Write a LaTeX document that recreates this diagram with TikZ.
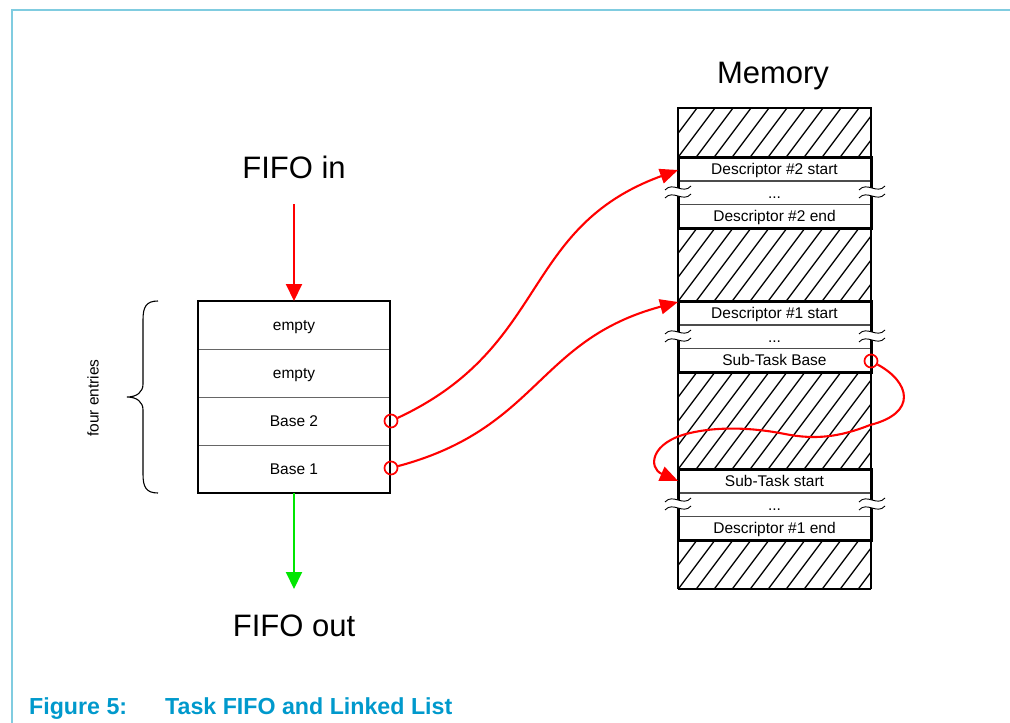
\documentclass[tikz,border=0pt]{standalone}
\usepackage{fontspec}
\setmainfont{Liberation Sans}
\usetikzlibrary{arrows.meta}
\definecolor{framecol}{RGB}{128,204,224}
\definecolor{capcol}{RGB}{0,153,204}
\definecolor{linkred}{RGB}{255,0,0}
\definecolor{outgreen}{RGB}{0,230,0}
\begin{document}
\begin{tikzpicture}[x=1pt,y=-1pt,
  bigtxt/.style={font=\fontsize{31}{36}\selectfont, anchor=base, inner sep=0},
  captxt/.style={font=\fontsize{23.2}{27}\selectfont\bfseries, text=capcol, anchor=base west, inner sep=0},
  fiforow/.style={draw=black!60, line width=0.9pt, minimum width=192pt, minimum height=48pt, inner sep=0, outer sep=0,
     anchor=north west, text height=11pt, text depth=0pt, font=\fontsize{15.5}{18}\selectfont},
  memrow/.style={draw=black!70, line width=0.9pt, minimum width=193pt, minimum height=23.7pt, inner sep=0, outer sep=0,
     anchor=north west, text height=11pt, text depth=0pt, font=\fontsize{15.5}{18}\selectfont},
  hatchline/.style={line width=1.3pt},
  thickborder/.style={line width=3pt},
  linkarrow/.style={draw=linkred, line width=2.1pt, -{Triangle[length=18pt,width=15pt]}},
  ring/.style={circle, draw=linkred, line width=1.7pt, minimum size=13pt, inner sep=0},
  brk/.pic={
    \fill[white] (-13,-2) .. controls (-5,-11) and (5,3) .. (13,-6) -- (13,2) .. controls (5,11) and (-5,-3) .. (-13,6) -- cycle;
    \draw[line width=0.9pt] (-13,-2) .. controls (-5,-11) and (5,3) .. (13,-6);
    \draw[line width=0.9pt] (-13,6) .. controls (-5,-3) and (5,11) .. (13,2);
  }]
\useasboundingbox (0,0) rectangle (1010,723);

% frame
\draw[framecol, line width=2.5pt] (12,723) -- (12,10) -- (1010,10);

% caption
\node[captxt] (capnum) at (29,714) {Figure 5:};
\node[captxt] (captitle) at (165,714) {Task FIFO and Linked List};

% FIFO texts
\node[bigtxt] (fifoin) at (294,178) {FIFO in};
\node[bigtxt] (fifoout) at (294,636) {FIFO out};
\node[bigtxt] (memlabel) at (773,83) {Memory};

% FIFO rows
\node[fiforow] (f1) at (198,301) {empty};
\node[fiforow] (f2) at (198,349) {empty};
\node[fiforow] (f3) at (198,397) {Base 2};
\node[fiforow] (f4) at (198,445) {Base 1};
\draw[line width=2pt] (f1.north west) rectangle (f4.south east);

% brace
\draw[line width=1.1pt] (158,301) .. controls (146,301) and (143,307) .. (143,320) -- (143,384)
   .. controls (143,392) and (137,397) .. (127,397)
   .. controls (137,397) and (143,402) .. (143,410) -- (143,474)
   .. controls (143,487) and (146,493) .. (158,493);
\node[font=\fontsize{15.5}{18}\selectfont, rotate=90, inner sep=0] (four) at (93,398) {four entries};

% memory hatch
\begin{scope}
  \clip (678,108) rectangle (871,157) (678,228) rectangle (871,301)
        (678,372) rectangle (871,469) (678,540) rectangle (871,589);
  \foreach \k in {0,...,45} {
    \draw[hatchline] (220+\k*18, 600) -- ++(375,-500);
  }
\end{scope}

% memory rows
\node[memrow] (d2s) at (678,157) {Descriptor \#2 start};
\node[memrow] (d2d) at (678,181) {...};
\node[memrow] (d2e) at (678,204.5) {Descriptor \#2 end};
\node[memrow] (d1s) at (678,301) {Descriptor \#1 start};
\node[memrow] (d1d) at (678,325) {...};
\node[memrow] (stb) at (678,348.5) {Sub-Task Base};
\node[memrow] (sts) at (678,469) {Sub-Task start};
\node[memrow] (d3d) at (678,493) {...};
\node[memrow] (d1e) at (678,516.5) {Descriptor \#1 end};

% memory borders
\draw[line width=2.5pt] (678,589) -- (678,108) -- (871,108) -- (871,589);
\draw[line width=1.8pt] (678,589) -- (871,589);
\draw[thickborder] (d2s.north west) rectangle (d2e.south east);
\draw[thickborder] (d1s.north west) rectangle (stb.south east);
\draw[thickborder] (sts.north west) rectangle (d1e.south east);

% break marks
\foreach \yy in {192,336,504} {
  \pic at (678,\yy) {brk};
  \pic at (872,\yy) {brk};
}

% FIFO in / out arrows
\coordinate (instart) at (294,204);
\coordinate (outend) at (294,589);
\draw[draw=linkred, line width=2pt, -{Triangle[length=17pt,width=16pt]}] (instart) -- (f1.north);
\draw[draw=outgreen, line width=2pt, -{Triangle[length=17pt,width=16pt]}] (f4.south) -- (outend);

% rings
\node[ring] (b2c) at (391,421) {};
\node[ring] (b1c) at (391,468) {};
\node[ring] (stc) at (871,361) {};

% links
\coordinate (d2in) at (678,170);
\coordinate (d1in) at (678,302);
\draw[linkarrow] (b2c) to[out=25,in=200,looseness=1.15] (d2in);
\draw[linkarrow] (b1c) to[out=15,in=195,looseness=1.15] (d1in);
\draw[linkarrow] (stc) .. controls (910,382) and (918,413) .. (870,425)
   .. controls (840,437) and (815,440) .. (785,434)
   .. controls (755,428) and (720,426) .. (690,433)
   .. controls (650,442) and (648,468) .. (sts.west);
\end{tikzpicture}
\end{document}
